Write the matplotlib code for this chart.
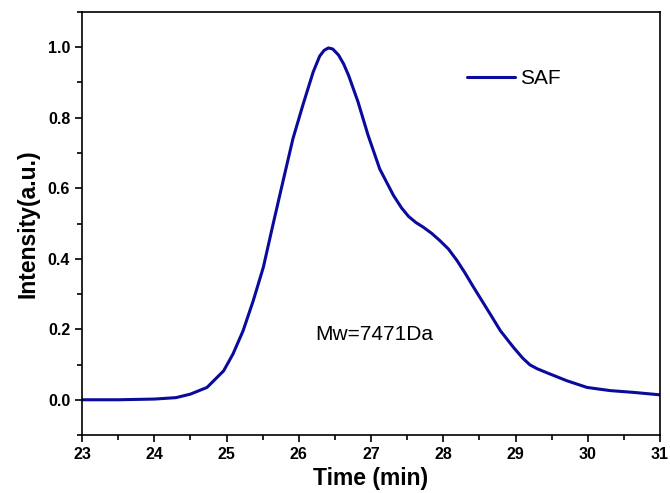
"""GPC elution curve of SAF."""

import matplotlib.pyplot as plt
from matplotlib.ticker import MultipleLocator

plt.rcParams["font.family"] = ["Liberation Sans", "DejaVu Sans"]

# retention time (min) and normalised detector response
time_min = [23.0, 23.5, 24.0, 24.15, 24.3, 24.5, 24.73, 24.96, 25.09, 25.23,
            25.37, 25.51, 25.63, 25.72, 25.79, 25.92, 26.06, 26.2, 26.29, 26.35,
            26.41, 26.47, 26.55, 26.62, 26.69, 26.82, 26.96, 27.12, 27.31, 27.42,
            27.52, 27.62, 27.72, 27.84, 27.95, 28.07, 28.19, 28.3, 28.42, 28.65,
            28.79, 28.97, 29.1, 29.2, 29.3, 29.43, 29.71, 29.99, 30.31, 30.63,
            31.0]
intensity = [0.0, 0.0, 0.002, 0.004, 0.006, 0.016, 0.035, 0.082, 0.13, 0.196,
             0.281, 0.376, 0.485, 0.565, 0.627, 0.741, 0.838, 0.93, 0.975, 0.991,
             0.998, 0.995, 0.978, 0.953, 0.92, 0.845, 0.75, 0.655, 0.58, 0.545,
             0.52, 0.503, 0.49, 0.472, 0.452, 0.428, 0.395, 0.36, 0.319, 0.243,
             0.196, 0.149, 0.118, 0.099, 0.088, 0.077, 0.054, 0.035, 0.026, 0.021,
             0.014]

sample = "SAF"
mw_note = "Mw=7471Da"

fig = plt.figure(figsize=(6.7, 4.93), dpi=100)
ax = fig.add_axes([0.1224, 0.1176, 0.8627, 0.8581])

ax.plot(time_min, intensity, color="#0a0a9c", linewidth=2.2, label=sample,
        solid_joinstyle="round", solid_capstyle="round")

ax.set_xlim(23, 31)
ax.set_ylim(-0.1, 1.1)
ax.xaxis.set_major_locator(MultipleLocator(1))
ax.xaxis.set_minor_locator(MultipleLocator(0.5))
ax.yaxis.set_minor_locator(MultipleLocator(0.1))
ax.set_yticks([0.0, 0.2, 0.4, 0.6, 0.8, 1.0])
ax.set_yticklabels(["0.0", "0.2", "0.4", "0.6", "0.8", "1.0"])

ax.tick_params(which="both", direction="out", top=False, right=False,
               width=1.2, labelsize=11.5)
ax.tick_params(which="major", length=5)
ax.tick_params(which="minor", length=3.5)
for lab in ax.get_xticklabels() + ax.get_yticklabels():
    lab.set_fontweight("bold")
for sp in ax.spines.values():
    sp.set_linewidth(1.2)

ax.set_xlabel("Time (min)", fontsize=16.5, fontweight="bold", labelpad=4)
ax.set_ylabel("Intensity(a.u.)", fontsize=16.5, fontweight="bold", labelpad=6)

ax.text(27.04, 0.186, mw_note, fontsize=15, ha="center", va="center")

ax.legend(loc="center left", bbox_to_anchor=(0.666, 0.842), frameon=False,
          fontsize=15, handlelength=2.3, handletextpad=0.25,
          borderpad=0, borderaxespad=0)

fig.savefig("out.png", dpi=100)
plt.close(fig)
